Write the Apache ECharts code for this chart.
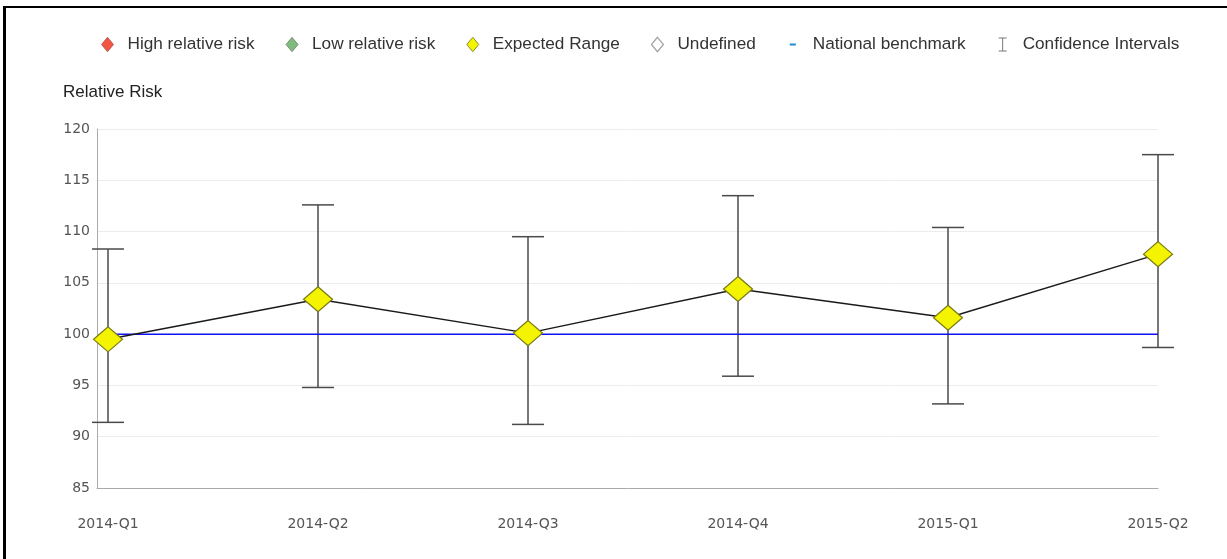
<!DOCTYPE html>
<html>
<head>
<meta charset="utf-8">
<script src="https://cdn.jsdelivr.net/npm/echarts@6/dist/echarts.min.js"></script>
<style>
  html, body { margin: 0; padding: 0; background: #fff; overflow: hidden; }
  #chart { position: absolute; left: 0; top: 0; width: 1227px; height: 559px; }
  #frame { position: absolute; left: 3px; top: 6px; width: 1400px; height: 700px;
           border-top: 2px solid #000; border-left: 3px solid #000; pointer-events: none; }
</style>
</head>
<body>
<div id="chart"></div>
<div id="frame"></div>
<script>
const quarters = ['2014-Q1', '2014-Q2', '2014-Q3', '2014-Q4', '2015-Q1', '2015-Q2']
const relativeRisk = [99.5, 103.4, 100.1, 104.4, 101.6, 107.8]
const ciLower = [91.4, 94.8, 91.2, 95.9, 93.2, 98.7]
const ciUpper = [108.3, 112.6, 109.5, 113.5, 110.4, 117.5]
const benchmark = [100, 100, 100, 100, 100, 100]
const yTicks = [85, 90, 95, 100, 105, 110, 115, 120]

// legend icons, the leading M's fix the icon box at 30x15
const diamondIcon = 'path://M0,0M30,15M15,0.3L21,7.5L15,14.7L9,7.5Z'
const dashIcon = 'path://M0,0M30,15M12,6.5H18V8.5H12Z'
const beamIcon = 'path://M0,0M30,15M11,0.5H19V1.5H15.5V13.5H19V14.5H11V13.5H14.5V1.5H11Z'

const chart = echarts.init(document.getElementById('chart'))

const option = {
  animation: false,
  title: {
    text: 'Relative Risk',
    left: 58,
    top: 79,
    textStyle: { fontFamily: 'Liberation Sans, Arial', fontSize: 17, fontWeight: 'normal', color: '#222' }
  },
  legend: {
    left: 87,
    top: 31,
    itemWidth: 30,
    itemHeight: 15,
    itemGap: 22,
    textStyle: { fontFamily: 'Liberation Sans, Arial', fontSize: 17.2, color: '#333' },
    data: [
      { name: 'High relative risk', icon: diamondIcon, itemStyle: { color: '#f02a12', borderColor: '#a05050', borderWidth: 1 } },
      { name: 'Low relative risk', icon: diamondIcon, itemStyle: { color: '#5cab5c', borderColor: '#708070', borderWidth: 1 } },
      { name: 'Expected Range', icon: diamondIcon, itemStyle: { color: '#f4f400', borderColor: '#8a8a30', borderWidth: 1 } },
      { name: 'Undefined', icon: diamondIcon, itemStyle: { color: '#fff', borderColor: '#8a8a8a', borderWidth: 1.2 } },
      { name: 'National benchmark', icon: dashIcon, itemStyle: { color: '#1a8ad4', borderWidth: 0 } },
      { name: 'Confidence Intervals', icon: beamIcon, itemStyle: { color: '#777', borderWidth: 0 } }
    ]
  },
  grid: { left: 97, right: 69, top: 129, bottom: 71 },
  xAxis: {
    type: 'value',
    min: -11 / 210,
    max: quarters.length - 1,
    axisLine: { show: true, onZero: false, lineStyle: { color: '#aaa', width: 1 } },
    axisTick: { show: false },
    splitLine: { show: false },
    axisLabel: {
      customValues: quarters.map((q, i) => i),
      formatter: v => quarters[Math.round(v)],
      margin: 29,
      fontFamily: 'DejaVu Sans, Verdana',
      fontSize: 14,
      color: '#555'
    }
  },
  yAxis: {
    type: 'value',
    min: yTicks[0],
    max: yTicks[yTicks.length - 1],
    interval: 5,
    axisLine: { show: true, onZero: false, lineStyle: { color: '#aaa', width: 1 } },
    axisTick: { show: false },
    splitLine: { show: true, lineStyle: { color: '#ececec', width: 1 } },
    axisLabel: { margin: 7, fontFamily: 'DejaVu Sans, Verdana', fontSize: 14, color: '#555' }
  },
  series: [
    { name: 'High relative risk', type: 'scatter', data: [] },
    { name: 'Low relative risk', type: 'scatter', data: [] },
    {
      name: 'Confidence Intervals',
      type: 'custom',
      z: 1,
      encode: { x: 0, y: [1, 2] },
      data: quarters.map((q, i) => [i, ciLower[i], ciUpper[i]]),
      renderItem: (params, api) => {
        const lo = api.coord([api.value(0), api.value(1)])
        const hi = api.coord([api.value(0), api.value(2)])
        const half = 16
        const style = { stroke: '#4a4a4a', lineWidth: 1.5 }
        return {
          type: 'group',
          children: [
            { type: 'line', shape: { x1: lo[0], y1: lo[1], x2: hi[0], y2: hi[1] }, style },
            { type: 'line', shape: { x1: hi[0] - half, y1: hi[1], x2: hi[0] + half, y2: hi[1] }, style },
            { type: 'line', shape: { x1: lo[0] - half, y1: lo[1], x2: lo[0] + half, y2: lo[1] }, style }
          ]
        }
      }
    },
    {
      name: 'National benchmark',
      type: 'line',
      z: 2,
      showSymbol: false,
      symbol: 'none',
      lineStyle: { color: '#1010f0', width: 1.5 },
      itemStyle: { color: '#1010f0' },
      data: benchmark.map((v, i) => [i, v])
    },
    {
      name: 'Expected Range',
      type: 'line',
      z: 3,
      symbol: 'diamond',
      symbolSize: [29, 25],
      lineStyle: { color: '#1a1a1a', width: 1.4 },
      itemStyle: { color: '#f4f400', borderColor: '#7a7a1a', borderWidth: 1.2 },
      data: relativeRisk.map((v, i) => [i, v])
    },
    { name: 'Undefined', type: 'scatter', data: [] }
  ]
}

chart.setOption(option)
window.addEventListener('resize', () => chart.resize())
</script>
</body>
</html>
